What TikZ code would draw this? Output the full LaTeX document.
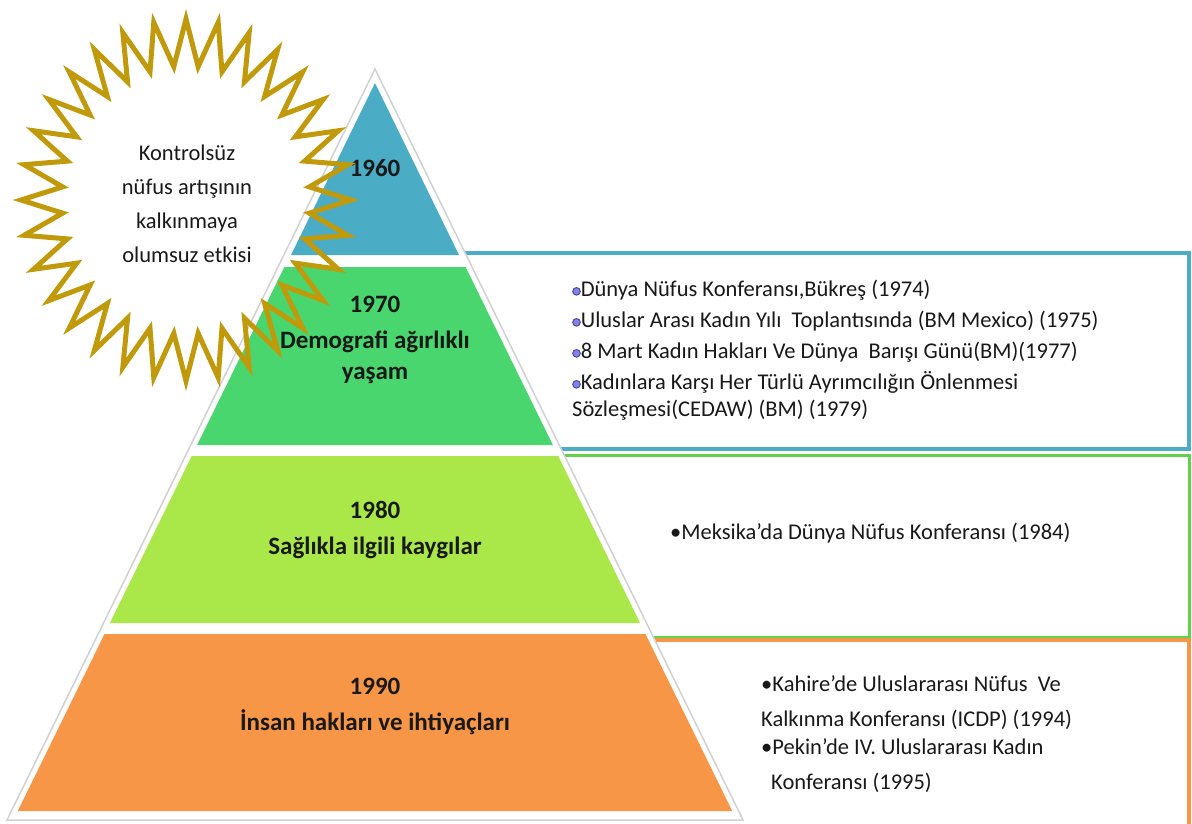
\documentclass[tikz,border=0pt]{standalone}
\usepackage{fontspec}
\setmainfont{Carlito}
\definecolor{tierblue}{HTML}{4BACC6}
\definecolor{tiergreen}{HTML}{4AD66E}
\definecolor{tierlime}{HTML}{AAE84A}
\definecolor{tierorange}{HTML}{F79646}
\definecolor{boxgreen}{HTML}{62D24A}
\definecolor{sungold}{HTML}{C19A0C}
\definecolor{bulletfill}{HTML}{8484E0}
\definecolor{bulletline}{HTML}{4A4AB0}
\tikzstyle{infobox}=[line width=4pt, fill=white]
\tikzstyle{tierlabel}=[font=\bfseries\fontsize{25}{36}\selectfont, align=center, text=black!90]
\tikzstyle{infotext}=[font=\fontsize{22.5}{31}\selectfont, align=left, anchor=west, inner sep=0pt, text=black!90]
\tikzstyle{suntext}=[font=\fontsize{22.5}{34}\selectfont, align=center, text=black!90]
\tikzstyle{sun}=[draw=sungold, line width=5pt, line join=miter]
\newcommand{\ringbullet}{\tikz[baseline=-5pt]\draw[bulletline, fill=bulletfill, line width=1pt] (0,0) circle (3.8pt);}
\newcommand{\tier}[3]{\fill[#1] ({375-0.49*(#2-82)},#2) -- ({375+0.49*(#2-82)},#2)
  -- ({375+0.49*(#3-82)},#3) -- ({375-0.49*(#3-82)},#3) -- cycle;}

\begin{document}
\begin{tikzpicture}[x=1pt, y=-1pt]
  \useasboundingbox (0,0) rectangle (1192,823);
  % boxes behind the pyramid
  \draw[infobox, draw=tierblue] (420,253) rectangle (1189,449);
  \draw[infobox, draw=boxgreen, line width=3pt] (520,455) rectangle (1189,637);
  \draw[tierorange, line width=4pt] (600,640) -- (1189,640) -- (1189,830);
  % pyramid
  \filldraw[fill=white, draw=black!18, line width=1.5pt] (375,69) -- (743,820) -- (7,820) -- cycle;
  \fill[tierblue] (375,83) -- (459,255) -- (291,255) -- cycle;
  \tier{tiergreen}{267}{445}
  \tier{tierlime}{456}{623}
  \tier{tierorange}{634}{811}
  \node[tierlabel] (l1960) at (375,168) {1960};
  \node[tierlabel] (l1970) at (375,340) {1970\\Demografi ağırlıklı\\[-5pt]yaşam};
  \node[tierlabel] (l1980) at (375,530) {1980\\Sağlıkla ilgili kaygılar};
  \node[tierlabel] (l1990) at (375,706) {1990\\İnsan hakları ve ihtiyaçları};
  % events
  \node[infotext] (t1970) at (572,350) {\ringbullet Dünya Nüfus Konferansı,Bükreş (1974)\\
    \ringbullet Uluslar Arası Kadın Yılı\ \ Toplantısında (BM Mexico) (1975)\\
    \ringbullet 8 Mart Kadın Hakları Ve Dünya\ \ Barışı Günü(BM)(1977)\\
    \ringbullet Kadınlara Karşı Her Türlü Ayrımcılığın Önlenmesi\\[-4pt]
    Sözleşmesi(CEDAW) (BM) (1979)};
  \node[infotext] (t1980) at (670,533) {\textbullet Meksika’da Dünya Nüfus Konferansı (1984)};
  \node[infotext] (t1990) at (761,734) {\textbullet Kahire’de Uluslararası Nüfus\ \ Ve\\[4pt]
    Kalkınma Konferansı (ICDP) (1994)\\[-3pt]
    \textbullet Pekin’de IV. Uluslararası Kadın\\[4pt]
    \hspace*{10pt}Konferansı (1995)};
  % sun
  \draw[sun] plot[samples at={0,...,63}, variable=\k]
    ({186+ifthenelse(mod(\k,2)==0,165,124)*cos(\k*5.625)},
     {200+ifthenelse(mod(\k,2)==0,181,134)*sin(\k*5.625)}) -- cycle;
  \node[suntext] (cause) at (187,204) {Kontrolsüz\\nüfus artışının\\kalkınmaya\\olumsuz etkisi};
\end{tikzpicture}
\end{document}
